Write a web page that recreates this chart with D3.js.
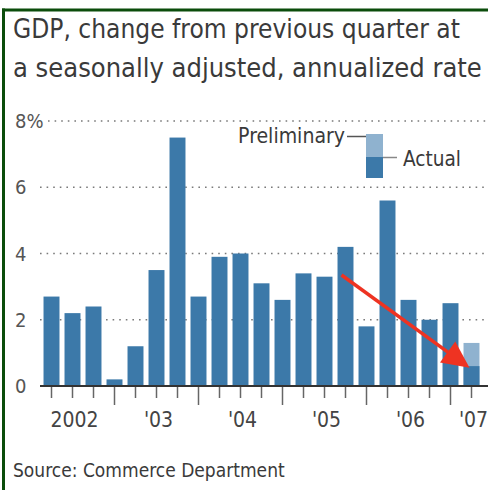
<!DOCTYPE html>
<html>
<head>
<meta charset="utf-8">
<script src="https://cdn.jsdelivr.net/npm/d3@7"></script>
<style>
  body { margin: 0; background: #fff; }
  text { font-family: "DejaVu Sans Condensed", "Open Sans", sans-serif; fill: #3a3a3a; }
</style>
</head>
<body>
<script>
var quarters = ["2002 Q1", "2002 Q2", "2002 Q3", "2002 Q4",
                "2003 Q1", "2003 Q2", "2003 Q3", "2003 Q4",
                "2004 Q1", "2004 Q2", "2004 Q3", "2004 Q4",
                "2005 Q1", "2005 Q2", "2005 Q3", "2005 Q4",
                "2006 Q1", "2006 Q2", "2006 Q3", "2006 Q4",
                "2007 Q1"];
var actual = [2.7, 2.2, 2.4, 0.2, 1.2, 3.5, 7.5, 2.7, 3.9, 4.0, 3.1,
              2.6, 3.4, 3.3, 4.2, 1.8, 5.6, 2.6, 2.0, 2.5, 0.6];
var prelimQuarters = ["2007 Q1"];
var prelimValues = [1.3];
var yTicks = [0, 2, 4, 6, 8];
var yearLabels = ["2002", "'03", "'04", "'05", "'06", "'07"];
var yearLabelQuarters = ["2002 Q2", "2003 Q2", "2004 Q2", "2005 Q2", "2006 Q2", "2007 Q1"];
// red trend arrow: from / to, in quarter + value terms
var arrowFrom = {quarter: "2005 Q3", value: 3.35};
var arrowTo = {quarter: "2007 Q1", value: 0.55};

var W = 488, H = 490;
var dark = "#3c79a9", light = "#8fb2cf";

var svg = d3.select("body").append("svg")
    .attr("width", W)
    .attr("height", H);

svg.append("rect").attr("width", W).attr("height", H).attr("fill", "#fff");

var x = d3.scaleBand()
    .domain(quarters)
    .range([41, 482])
    .paddingInner(0.24)
    .paddingOuter(0.12);

var y = d3.scaleLinear()
    .domain([0, 8])
    .range([386, 121]);

// frame (top + left green rules)
svg.append("line").attr("x1", 2).attr("x2", W).attr("y1", 10).attr("y2", 10)
    .attr("stroke", "#0b4d0b").attr("stroke-width", 3);
svg.append("line").attr("x1", 3.5).attr("x2", 3.5).attr("y1", 8.5).attr("y2", H)
    .attr("stroke", "#0b4d0b").attr("stroke-width", 3);

// fit a text to a given width by scaling its font size
function fit(sel, w) {
    var len = sel.node().getComputedTextLength();
    var fs = parseFloat(sel.style("font-size"));
    sel.style("font-size", (fs * w / len) + "px");
    return sel;
}

fit(svg.append("text").attr("x", 13).attr("y", 38).style("font-size", "23px")
    .text("GDP, change from previous quarter at"), 447);
fit(svg.append("text").attr("x", 13).attr("y", 77).style("font-size", "23px")
    .text("a seasonally adjusted, annualized rate"), 469);

// gridlines
svg.append("g").selectAll("line")
    .data(yTicks.filter(function(d) { return d > 0; }))
    .enter().append("line")
    .attr("x1", function(d) { return d === 8 ? 48 : 40; })
    .attr("x2", W)
    .attr("y1", function(d) { return y(d); })
    .attr("y2", function(d) { return y(d); })
    .attr("stroke", "#7a7a7a")
    .attr("stroke-width", 1.6)
    .attr("stroke-dasharray", "1.6,5");

svg.append("g").selectAll("text")
    .data(yTicks)
    .enter().append("text")
    .attr("x", 15)
    .attr("y", function(d) { return y(d); })
    .attr("dy", "0.36em")
    .style("font-size", "20px")
    .style("fill", "#555")
    .text(function(d) { return d === 8 ? "8%" : d; });

// bars
svg.append("g").selectAll("rect")
    .data(prelimQuarters)
    .enter().append("rect")
    .attr("x", function(d) { return x(d); })
    .attr("width", x.bandwidth())
    .attr("y", function(d, i) { return y(prelimValues[i]); })
    .attr("height", function(d, i) { return y(0) - y(prelimValues[i]); })
    .attr("fill", light);

svg.append("g").selectAll("rect")
    .data(quarters)
    .enter().append("rect")
    .attr("x", function(d) { return x(d); })
    .attr("width", x.bandwidth())
    .attr("y", function(d, i) { return y(actual[i]); })
    .attr("height", function(d, i) { return y(0) - y(actual[i]); })
    .attr("fill", dark);

// baseline + ticks
svg.append("line").attr("x1", 40).attr("x2", W)
    .attr("y1", y(0)).attr("y2", y(0))
    .attr("stroke", "#333").attr("stroke-width", 2);

svg.append("g").selectAll("line")
    .data(quarters)
    .enter().append("line")
    .attr("x1", function(d) { return x(d) + x.bandwidth() / 2; })
    .attr("x2", function(d) { return x(d) + x.bandwidth() / 2; })
    .attr("y1", y(0) + 1)
    .attr("y2", function(d) { return /Q4/.test(d) ? y(0) + 19 : y(0) + 12; })
    .attr("stroke", "#666")
    .attr("stroke-width", 1.5);

svg.append("g").selectAll("text")
    .data(yearLabels)
    .enter().append("text")
    .attr("x", function(d, i) { return x(yearLabelQuarters[i]) + x.bandwidth() / 2 + 2; })
    .attr("y", 427)
    .attr("text-anchor", "middle")
    .style("font-size", "21px")
    .style("fill", "#444")
    .text(function(d) { return d; });

// legend
var lg = svg.append("g");
lg.append("rect").attr("x", 366).attr("y", 134).attr("width", 17).attr("height", 23).attr("fill", light);
lg.append("rect").attr("x", 366).attr("y", 157).attr("width", 17).attr("height", 21).attr("fill", dark);
lg.append("line").attr("x1", 347).attr("x2", 366).attr("y1", 136.5).attr("y2", 136.5)
    .attr("stroke", "#555").attr("stroke-width", 1.5);
lg.append("line").attr("x1", 383).attr("x2", 397).attr("y1", 157.5).attr("y2", 157.5)
    .attr("stroke", "#888").attr("stroke-width", 1.5);
fit(lg.append("text").attr("x", 345).attr("y", 143).attr("text-anchor", "end")
    .style("font-size", "18px").text("Preliminary"), 107);
fit(lg.append("text").attr("x", 403).attr("y", 166)
    .style("font-size", "18px").text("Actual"), 58);

// red arrow
var ax0 = x(arrowFrom.quarter) + 4, ay0 = y(arrowFrom.value),
    ax1 = x(arrowTo.quarter) + 6, ay1 = y(arrowTo.value);
var dx = ax1 - ax0, dy = ay1 - ay0, L = Math.sqrt(dx * dx + dy * dy);
var ux = dx / L, uy = dy / L, headLen = 27, headW = 13;
var bx = ax1 - ux * headLen, by = ay1 - uy * headLen;
svg.append("line")
    .attr("x1", ax0).attr("y1", ay0)
    .attr("x2", bx + ux * 2).attr("y2", by + uy * 2)
    .attr("stroke", "#ee3322").attr("stroke-width", 3.5);
svg.append("path")
    .attr("d", "M" + ax1 + "," + ay1 +
        "L" + (bx - uy * headW) + "," + (by + ux * headW) +
        "L" + (bx + uy * headW) + "," + (by - ux * headW) + "Z")
    .attr("fill", "#ee3322");

fit(svg.append("text").attr("x", 13).attr("y", 477).style("font-size", "18px")
    .text("Source: Commerce Department"), 272);
</script>
</body>
</html>
